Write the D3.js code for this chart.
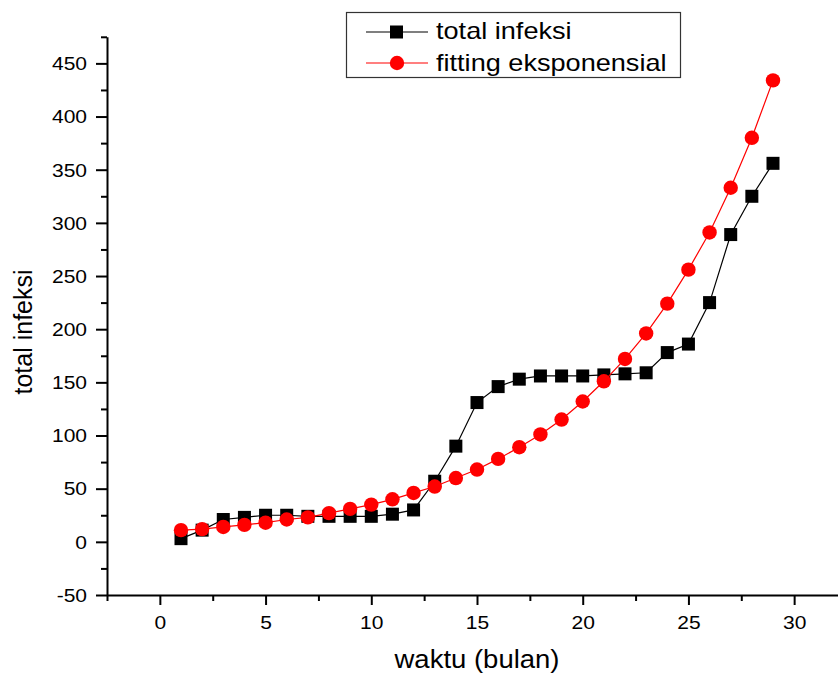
<!DOCTYPE html>
<html>
<head>
<meta charset="utf-8">
<title>total infeksi</title>
<script src="https://cdn.jsdelivr.net/npm/d3@7"></script>
<style>
  body { margin: 0; background: #fff; }
  svg { display: block; font-family: "Liberation Sans", Arial, sans-serif; }
</style>
</head>
<body>
<svg width="838" height="675"></svg>
<script>
// data
var bulan = [1,2,3,4,5,6,7,8,9,10,11,12,13,14,15,16,17,18,19,20,21,22,23,24,25,26,27,28,29];
var totalInfeksi = [3,11,21,23,25,25,24,24,24,24,26,30,57,90,131,146,153,156,156,156,157,158,159,178,186,225,289,325,356];
var fittingEksponensial = [11,12,14,16,18,21,23,27,31,35,40,46,52,60,68,78,89,101,115,132,151,172,196,224,256,291,333,380,434];
var xTicks = [0,5,10,15,20,25,30];
var yTicks = [-50,0,50,100,150,200,250,300,350,400,450];

var svg = d3.select("svg");

var x = d3.scaleLinear().domain([-2.5, 32.5]).range([107, 847]);
var y = d3.scaleLinear().domain([-50, 475]).range([595, 36.8]);

// minor ticks
var xMinor = d3.range(-2.5, 33, 5);
var yMinor = d3.range(-25, 476, 50);

// plain hyphen for negatives, like the original
var fmt = function(d) { return String(d); };

svg.append("g")
  .attr("transform", "translate(0,595)")
  .call(d3.axisBottom(x).tickValues(xMinor).tickSize(6).tickSizeOuter(0).tickFormat(""))
  .call(function(g) { g.select(".domain").remove(); })
  .selectAll("line").attr("stroke-width", 2);

svg.append("g")
  .attr("transform", "translate(107,0)")
  .call(d3.axisLeft(y).tickValues(yMinor).tickSize(6).tickSizeOuter(0).tickFormat(""))
  .call(function(g) { g.select(".domain").remove(); })
  .selectAll("line").attr("stroke-width", 2);

var xAxis = svg.append("g")
  .attr("transform", "translate(0,595)")
  .call(d3.axisBottom(x).tickValues(xTicks).tickFormat(fmt).tickSize(10).tickSizeOuter(0).tickPadding(0));
xAxis.select(".domain").attr("stroke-width", 2);
xAxis.selectAll("line").attr("stroke-width", 2);
xAxis.selectAll("text")
  .attr("font-size", 17.5)
  .attr("font-family", "Liberation Sans, Arial, sans-serif")
  .attr("fill", "#000")
  .attr("y", 0).attr("dy", 0)
  .attr("transform", "translate(0,34) scale(1.2,1)");

var yAxis = svg.append("g")
  .attr("transform", "translate(107,0)")
  .call(d3.axisLeft(y).tickValues(yTicks).tickFormat(fmt).tickSize(11).tickSizeOuter(0).tickPadding(0));
yAxis.select(".domain").attr("stroke-width", 2);
yAxis.selectAll("line").attr("stroke-width", 2);
yAxis.selectAll("text")
  .attr("font-size", 17.5)
  .attr("font-family", "Liberation Sans, Arial, sans-serif")
  .attr("fill", "#000")
  .attr("x", 0).attr("dy", "0.36em")
  .attr("transform", "translate(-20,0) scale(1.2,1)");

// axis titles
svg.append("text")
  .attr("transform", "translate(477,668) scale(1.1,1)")
  .attr("text-anchor", "middle")
  .attr("font-size", 25)
  .text("waktu (bulan)");

svg.append("text")
  .attr("transform", "translate(31.5,332) rotate(-90)")
  .attr("text-anchor", "middle")
  .attr("font-size", 25)
  .text("total infeksi");

var black = bulan.map(function(d, i) { return [d, totalInfeksi[i]]; });
var red = bulan.map(function(d, i) { return [d, fittingEksponensial[i]]; });
var line = d3.line().x(function(d) { return x(d[0]); }).y(function(d) { return y(d[1]); });

svg.append("path").attr("d", line(black)).attr("fill", "none").attr("stroke", "#000").attr("stroke-width", 1.2);
svg.selectAll(".sq").data(black).enter().append("rect")
  .attr("x", function(d) { return x(d[0]) - 6.5; })
  .attr("y", function(d) { return y(d[1]) - 6.5; })
  .attr("width", 13).attr("height", 13)
  .attr("fill", "#000");

svg.append("path").attr("d", line(red)).attr("fill", "none").attr("stroke", "#ff0000").attr("stroke-width", 1.2);
svg.selectAll(".dot").data(red).enter().append("circle")
  .attr("cx", function(d) { return x(d[0]); })
  .attr("cy", function(d) { return y(d[1]); })
  .attr("r", 7.2)
  .attr("fill", "#ff0000");

// legend
var leg = svg.append("g");
leg.append("rect").attr("x", 346.5).attr("y", 12.5).attr("width", 334).attr("height", 65)
  .attr("fill", "#fff").attr("stroke", "#333").attr("stroke-width", 1.2);

leg.append("line").attr("x1", 366).attr("x2", 428).attr("y1", 32).attr("y2", 32).attr("stroke", "#000").attr("stroke-width", 1.2);
leg.append("rect").attr("x", 390).attr("y", 25.5).attr("width", 13).attr("height", 13).attr("fill", "#000");
leg.append("text").attr("transform", "translate(436,39) scale(1.13,1)").attr("font-size", 24).text("total infeksi");

leg.append("line").attr("x1", 366).attr("x2", 428).attr("y1", 63).attr("y2", 63).attr("stroke", "#ff0000").attr("stroke-width", 1.2);
leg.append("circle").attr("cx", 397).attr("cy", 63).attr("r", 7.2).attr("fill", "#ff0000");
leg.append("text").attr("transform", "translate(436,71) scale(1.13,1)").attr("font-size", 24).text("fitting eksponensial");
</script>
</body>
</html>
